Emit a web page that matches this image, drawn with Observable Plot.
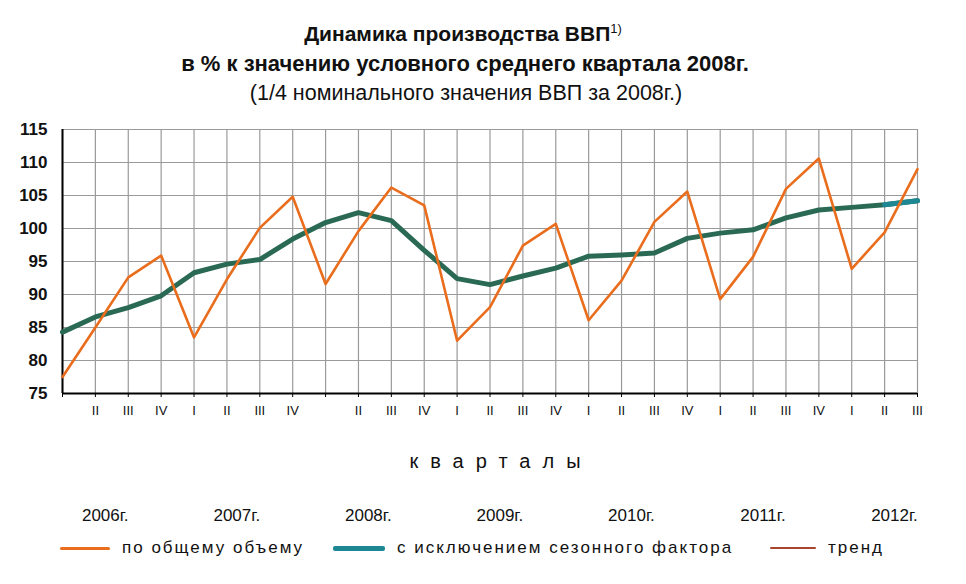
<!DOCTYPE html>
<html><head><meta charset="utf-8">
<script src="https://cdn.jsdelivr.net/npm/d3@7"></script>
<script src="https://cdn.jsdelivr.net/npm/@observablehq/plot@0.6"></script>
<style>
body{margin:0;background:#fff;font-family:"Liberation Sans Narrow","Liberation Sans",Arial,sans-serif;}
#wrap{position:relative;width:966px;height:584px;overflow:hidden;}
.t{position:absolute;left:0;width:966px;text-align:center;color:#111;white-space:nowrap;}
#legend{position:absolute;top:537px;left:0;width:966px;height:22px;font-size:17px;letter-spacing:2px;color:#111;}
.li{position:absolute;top:0;display:flex;align-items:center;height:22px;}
.sw{display:inline-block;margin-right:12px;border-radius:2px;}
</style></head><body>
<div id="wrap">
<div class="t" style="top:21px;left:-20px;font-size:21px;font-weight:bold;">Динамика производства ВВП<sup style="font-size:13px;font-weight:normal;">1)</sup></div>
<div class="t" style="top:51px;left:-18px;font-size:22px;font-weight:bold;">в % к значению условного среднего квартала 2008г.</div>
<div class="t" style="top:81px;left:-17px;font-size:21.5px;">(1/4 номинального значения ВВП за 2008г.)</div>
<div class="t" id="xt" style="top:450px;left:18px;font-size:20px;letter-spacing:12px;"></div>
<div id="chart" style="position:absolute;top:0;left:0;"></div>
<div id="legend"></div>
</div>
<script>
const quarterLabels = ["", "II", "III", "IV", "I", "II", "III", "IV", "", "II", "III", "IV", "I", "II", "III", "IV", "I", "II", "III", "IV", "I", "II", "III", "IV", "I", "II", "III"];
const years = ["2006г.", "2007г.", "2008г.", "2009г.", "2010г.", "2011г.", "2012г."];
const totalVolume = [77.5, 85.0, 92.6, 95.9, 83.5, 92.3, 100.1, 104.8, 91.6, 99.6, 106.2, 103.5, 83.0, 88.1, 97.4, 100.7, 86.1, 92.1, 101.0, 105.6, 89.3, 95.7, 106.0, 110.6, 93.9, 99.4, 109.0];
const seasonAdj = [84.3, 86.6, 88.0, 89.8, 93.3, 94.6, 95.3, 98.4, 100.9, 102.4, 101.2, 96.7, 92.4, 91.5, 92.8, 94.0, 95.8, 96.0, 96.3, 98.5, 99.3, 99.8, 101.6, 102.8, 103.2, 103.6, 104.2];
const yTicks = [75, 80, 85, 90, 95, 100, 105, 110, 115];
const axisTitle = "кварталы";
const legendItems = ["по общему объему", "с исключением сезонного фактора", "тренд"];

const orange = "#e96d1c", green = "#2a6a55", teal = "#1d8794", trendCol = "#a8452e";
const idx = d3.range(totalVolume.length);
const tot = idx.map(i => ({q: i, v: totalVolume[i]}));
const sa = idx.map(i => ({q: i, v: seasonAdj[i]}));
const saTail = sa.slice(-2);
const yrs = years.map((y, i) => ({q: i * 4 + 1.3, t: y}));
const font = '"Liberation Sans Narrow","Liberation Sans",Arial,sans-serif';

document.getElementById("xt").textContent = axisTitle;

const chart = Plot.plot({
  width: 966, height: 584,
  marginLeft: 62, marginRight: 49, marginTop: 129, marginBottom: 191,
  style: {fontFamily: font, background: "transparent", overflow: "visible", color: "#111"},
  x: {domain: [0, 26], ticks: idx, tickFormat: i => quarterLabels[i], label: null},
  y: {domain: [75, 115], ticks: yTicks, label: null},
  marks: [
    Plot.gridX(idx, {stroke: "#9a9a9a", strokeOpacity: 1, strokeWidth: 1.2}),
    Plot.gridY(yTicks, {stroke: "#9a9a9a", strokeOpacity: 1, strokeWidth: 1.2}),
    Plot.axisX(idx, {tickFormat: i => quarterLabels[i], tickSize: 4, tickPadding: 8, fontSize: 13, stroke: "#000", label: null}),
    Plot.axisY(yTicks, {tickSize: 0, tickPadding: 15, fontSize: 17, fontWeight: "bold", label: null}),
    Plot.ruleY([75], {stroke: "#000", strokeWidth: 2}),
    Plot.ruleX([0], {stroke: "#000", strokeWidth: 2}),
    Plot.line(sa, {x: "q", y: "v", stroke: green, strokeWidth: 5}),
    Plot.line(saTail, {x: "q", y: "v", stroke: teal, strokeWidth: 5}),
    Plot.line(tot, {x: "q", y: "v", stroke: orange, strokeWidth: 2.6}),
    Plot.text(yrs, {x: "q", text: "t", frameAnchor: "bottom", dy: 127, fontSize: 17, fill: "#111"})
  ]
});
document.getElementById("chart").appendChild(chart);

const leg = document.getElementById("legend");
const legendStyle = [
  {left: 60, color: orange, w: 50, h: 3},
  {left: 333, color: teal, w: 52, h: 5},
  {left: 770, color: trendCol, w: 46, h: 2}
];
legendItems.forEach((t, i) => {
  const s = legendStyle[i];
  const d = document.createElement("div");
  d.className = "li"; d.style.left = s.left + "px";
  d.innerHTML = `<span class="sw" style="width:${s.w}px;height:${s.h}px;background:${s.color}"></span><span>${t}</span>`;
  leg.appendChild(d);
});
</script>
</body></html>
